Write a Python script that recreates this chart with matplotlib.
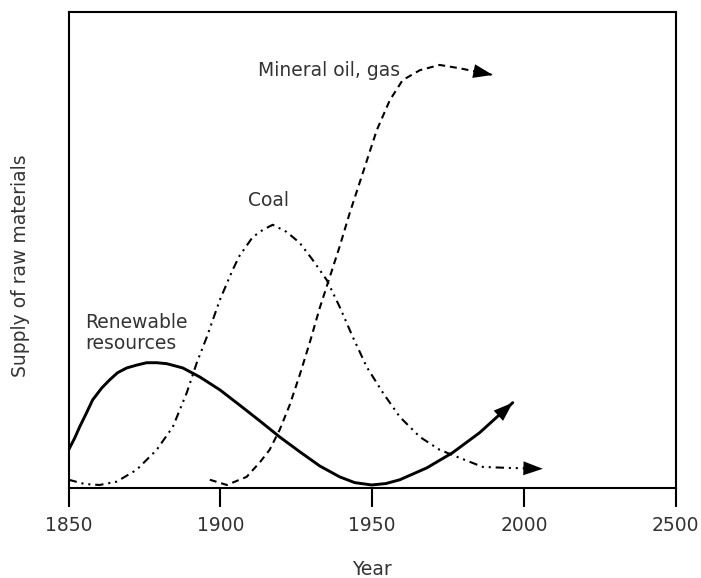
import matplotlib
matplotlib.use("Agg")
import matplotlib.pyplot as plt

plt.rcParams['lines.scale_dashes'] = False

# ---- data ----
renew_x = [1850.0, 1852.0, 1853.6, 1855.9, 1857.9, 1860.9, 1863.5, 1866.1, 1869.1, 1872.4,
           1875.7, 1879.0, 1882.3, 1887.6, 1893.2, 1899.8, 1906.3, 1912.9, 1919.5, 1926.1,
           1932.7, 1939.3, 1944.2, 1949.8, 1954.5, 1959.1, 1968.0, 1976.5, 1985.4, 1996.3]
renew_y = [8.0, 10.5, 12.8, 15.8, 18.5, 21.0, 22.7, 24.2, 25.2, 25.8,
           26.3, 26.3, 26.1, 25.2, 23.3, 20.6, 17.4, 14.1, 10.7, 7.6,
           4.6, 2.3, 1.1, 0.6, 0.9, 1.7, 4.2, 7.4, 11.6, 17.9]

coal_x = [1850.0, 1855.3, 1860.2, 1865.8, 1872.4, 1879.0, 1884.3, 1888.9, 1892.2, 1895.5,
          1899.8, 1904.0, 1906.3, 1910.6, 1913.9, 1917.2, 1921.8, 1926.1, 1930.4, 1935.0,
          1939.3, 1943.6, 1948.2, 1953.5, 1959.1, 1965.7, 1972.2, 1978.8, 1986.4, 1994.3,
          2006.2]
coal_y = [1.7, 0.8, 0.6, 1.3, 3.8, 8.0, 12.8, 20.0, 26.3, 31.7,
          39.5, 45.8, 48.8, 52.7, 54.2, 55.3, 53.8, 51.5, 47.9, 43.7,
          38.0, 31.7, 25.4, 20.0, 14.9, 10.7, 8.0, 6.3, 4.4, 4.2,
          4.0]

oil_x = [1896.5, 1902.1, 1908.6, 1912.9, 1916.2, 1919.5, 1922.8, 1926.1, 1929.4, 1932.7,
         1936.0, 1939.3, 1942.6, 1946.9, 1951.5, 1955.8, 1960.0, 1965.7, 1972.2, 1978.8,
         1989.7]
oil_y = [1.7, 0.6, 2.3, 5.3, 8.0, 12.2, 17.4, 23.7, 30.5, 37.8,
         44.3, 50.8, 57.8, 66.2, 75.2, 81.5, 85.7, 87.8, 88.9, 88.2,
         86.8]

tick_pos = [1850, 1900, 1950, 2000, 2050]
tick_labels = ['1850', '1900', '1950', '2000', '2500']

fig = plt.figure(figsize=(7.01, 5.78), dpi=100)
ax = fig.add_axes([0.098, 0.156, 0.866, 0.823])

txt_col = '#333333'
fs = 13.5

def draw(xs, ys, lw, dashes=None):
    line, = ax.plot(xs, ys, color='black', lw=lw, solid_capstyle='round',
                    solid_joinstyle='round')
    if dashes:
        line.set_dashes(dashes)
    # filled arrow head at end of curve
    ax.annotate('', xy=(xs[-1], ys[-1]), xytext=(xs[-2], ys[-2]),
                arrowprops=dict(arrowstyle='-|>,head_length=1.4,head_width=0.5',
                                facecolor='black', edgecolor='black', lw=0,
                                shrinkA=0, shrinkB=0))

draw(renew_x, renew_y, 2.1)
draw(coal_x, coal_y, 1.5, dashes=(6, 3.5, 1.5, 3.5, 1.5, 3.5))
draw(oil_x, oil_y, 1.5, dashes=(5, 3.5))

ax.text(1912.3, 87.8, 'Mineral oil, gas', fontsize=fs, color=txt_col, va='center')
ax.text(1909.0, 60.5, 'Coal', fontsize=fs, color=txt_col, va='center')
ax.text(1855.3, 32.6, 'Renewable\nresources', fontsize=fs, color=txt_col, va='center',
        linespacing=1.1)

ax.set_xlim(1850, 2050)
ax.set_ylim(0, 100)
ax.set_xticks(tick_pos)
ax.set_xticklabels(tick_labels, fontsize=fs, color=txt_col)
ax.set_yticks([])
ax.tick_params(axis='x', direction='out', length=14, width=1.5, pad=6)
for s in ax.spines.values():
    s.set_linewidth(1.5)

ax.set_xlabel('Year', fontsize=fs, color=txt_col, labelpad=18)
ax.set_ylabel('Supply of raw materials', fontsize=fs, color=txt_col)
ax.yaxis.set_label_coords(-0.064, 0.468)

fig.savefig('out.png', dpi=100)
